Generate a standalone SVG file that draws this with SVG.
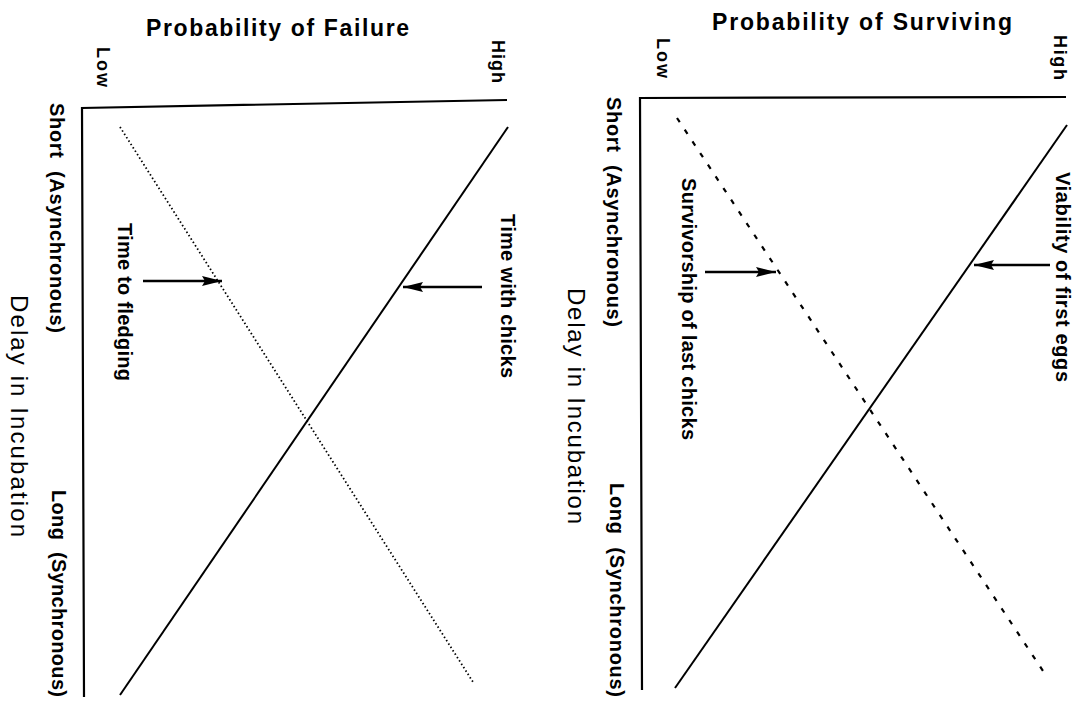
<svg xmlns="http://www.w3.org/2000/svg" width="1078" height="703" viewBox="0 0 1078 703">
<style>
  text { font-family: "Liberation Sans", Arial, sans-serif; fill: #000; white-space: pre; }
  .b { font-weight: bold; font-size: 20px; }
  .s { font-weight: bold; font-size: 18px; }
  .t { font-weight: bold; font-size: 23px; }
  .ax { font-weight: normal; font-size: 24px; }
  .axis { stroke: #000; stroke-width: 2.2; fill: none; }
  .solid { stroke: #000; stroke-width: 2; fill: none; }
  .dotted { stroke: #000; stroke-width: 1.8; fill: none; stroke-dasharray: 1.5 2.5; }
  .dashed { stroke: #000; stroke-width: 2.2; fill: none; stroke-dasharray: 5 9; }
  .arr { stroke: #000; stroke-width: 2.4; fill: none; marker-end: url(#ah); }
</style>
<defs>
  <marker id="ah" viewBox="0 0 20 10" refX="20" refY="5" markerWidth="20" markerHeight="10" markerUnits="userSpaceOnUse" orient="auto">
    <path d="M0,0 L20,5 L0,10 L3,5 z" fill="#000"/>
  </marker>
</defs>

<g id="left-panel">
  <g id="left-axes">
    <polyline class="axis" points="507,100 82,108 84,697"/>
  </g>
  <g id="left-labels">
    <text class="t" x="146" y="36" textLength="263">Probability of Failure</text>
    <text class="s" transform="translate(97,47) rotate(90)" textLength="40">Low</text>
    <text class="s" transform="translate(492,40) rotate(90)" textLength="43">High</text>
    <text class="b" transform="translate(50,103) rotate(90)" textLength="230">Short  (Asynchronous)</text>
    <text class="b" transform="translate(52,490) rotate(90)" textLength="207">Long  (Synchronous)</text>
    <text class="ax" transform="translate(11,295) rotate(90)" textLength="242">Delay in Incubation</text>
  </g>
  <g id="node-time-to-fledging">
    <text class="b" transform="translate(118,223) rotate(90)" textLength="158">Time to fledging</text>
  </g>
  <g id="node-time-with-chicks">
    <text class="b" transform="translate(501,214) rotate(90)" textLength="164">Time with chicks</text>
  </g>
</g>

<g id="right-panel">
  <g id="right-axes">
    <polyline class="axis" points="1066,97 640,98 642,690"/>
  </g>
  <g id="right-labels">
    <text class="t" x="712" y="30" textLength="300">Probability of Surviving</text>
    <text class="s" transform="translate(657,38) rotate(90)" textLength="40">Low</text>
    <text class="s" transform="translate(1054,35) rotate(90)" textLength="45">High</text>
    <text class="b" transform="translate(607,97) rotate(90)" textLength="230">Short  (Asynchronous)</text>
    <text class="b" transform="translate(610,483) rotate(90)" textLength="214">Long  (Synchronous)</text>
    <text class="ax" transform="translate(568,288) rotate(90)" textLength="236">Delay in Incubation</text>
  </g>
  <g id="node-survivorship">
    <text class="b" transform="translate(682,178) rotate(90)" textLength="262">Survivorship of last chicks</text>
  </g>
  <g id="node-viability">
    <text class="b" transform="translate(1056,172) rotate(90)" textLength="210">Viability of first eggs</text>
  </g>
</g>

<g id="connectors">
  <line class="solid" x1="508" y1="127" x2="120" y2="695"/>
  <line class="dotted" x1="120" y1="127" x2="473" y2="682"/>
  <line class="arr" x1="143" y1="281" x2="222" y2="281"/>
  <line class="arr" x1="482" y1="287" x2="403" y2="287"/>
  <line class="solid" x1="1067" y1="125" x2="675" y2="688"/>
  <line class="dashed" x1="677" y1="118" x2="1047" y2="677"/>
  <line class="arr" x1="705" y1="272" x2="776" y2="272"/>
  <line class="arr" x1="1050" y1="265" x2="974" y2="265"/>
</g>
</svg>
